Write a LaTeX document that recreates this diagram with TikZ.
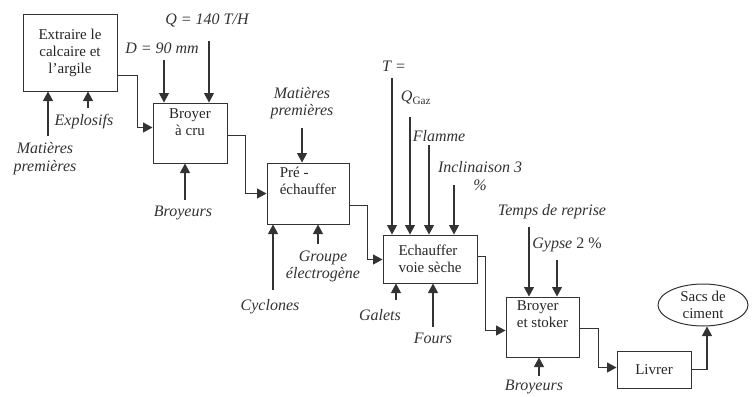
\documentclass[tikz,border=0pt]{standalone}
\usepackage{fontspec}
\setmainfont{Liberation Serif}
\usetikzlibrary{arrows.meta, shapes.geometric, positioning}
\tikzstyle{process} = [rectangle, draw=black!80, line width=1pt, text=black!85, font=\fontsize{15}{17}\selectfont]
\tikzstyle{result} = [ellipse, draw=black!80, line width=1pt, text=black!85, align=center, inner sep=1pt, minimum width=90pt, minimum height=42pt, font=\fontsize{15}{17}\selectfont]
\tikzstyle{inlabel} = [text=black!80, align=center, inner sep=1pt, font=\fontsize{16}{17.5}\selectfont\itshape]
\tikzstyle{arrow} = [line width=1.1pt, draw=black!80, -{Triangle[length=9.5pt,width=10pt]}]

\begin{document}
\begin{tikzpicture}[x=1pt, y=-1pt]
    \useasboundingbox (0,0) rectangle (754,396);
    % Steps
    \node[process, minimum width=94pt, minimum height=76pt, align=center] (extraire) at (70,53) {Extraire le\\calcaire et\\l’argile};
    \node[process, minimum width=74pt, minimum height=60pt, align=center] (broyercru) at (190,133) {Broyer\\à cru\\[4pt]};
    \node[process, minimum width=82pt, minimum height=61pt, align=left] (prechauf) at (308,193.5) {Pré -\\échauffer\\[8pt]};
    \node[process, minimum width=94pt, minimum height=48pt, align=left] (echauf) at (430,259) {Echauffer\\voie sèche};
    \node[process, minimum width=73pt, minimum height=60pt, align=left] (broyerstock) at (542.5,327) {Broyer\\et stoker\\[8pt]};
    \node[process, minimum width=74pt, minimum height=37pt] (livrer) at (654,369.5) {Livrer};
    \node[result] (sacs) at (703,305) {Sacs de\\ciment};

    % Inputs
    \node[inlabel] (mp1) at (45,158.5) {Matières\\premières};
    \node[inlabel] (explo) at (84,122) {Explosifs};
    \node[inlabel] (diam) at (162,48) {D = 90 mm};
    \node[inlabel] (debit) at (207,20) {Q = 140 T/H};
    \node[inlabel] (broy1) at (183,213) {Broyeurs};
    \node[inlabel] (mp2) at (302,103) {Matières\\premières};
    \node[inlabel] (cyclo) at (270,307) {Cyclones};
    \node[inlabel] (groupe) at (323,266.5) {Groupe\\électrogène};
    \node[inlabel] (temp) at (394,66) {T =};
    \node[inlabel] (qgaz) at (416,98) {Q\textsubscript{\upshape Gaz}};
    \node[inlabel] (flamme) at (439,136) {Flamme};
    \node[inlabel] (incli) at (480,176) {Inclinaison 3\\\%};
    \node[inlabel] (galets) at (380,315) {Galets};
    \node[inlabel] (fours) at (433,338) {Fours};
    \node[inlabel] (reprise) at (552,212) {Temps de reprise};
    \node[inlabel] (gypse) at (567,245) {Gypse {\upshape 2 \%}};
    \node[inlabel] (broy2) at (534,387) {Broyeurs};

    \coordinate (in1) at (48,136);
    \coordinate (in2) at (88,108);
    \coordinate (in3) at (164,60);
    \coordinate (in4) at (209,41);
    \coordinate (in5) at (185,200);
    \coordinate (in6) at (302,128);
    \coordinate (in7) at (273,290);
    \coordinate (in8) at (318,244);
    \coordinate (in9) at (392,78);
    \coordinate (in10) at (410,117);
    \coordinate (in11) at (429,145);
    \coordinate (in12) at (454,185);
    \coordinate (in13) at (396,300);
    \coordinate (in14) at (433,327);
    \coordinate (in15) at (529,227);
    \coordinate (in16) at (557,260);
    \coordinate (in17) at (539,376);

    \draw[arrow] (in1) -- (in1 |- extraire.south);
    \draw[arrow] (in2) -- (in2 |- extraire.south);
    \draw[arrow] (in3) -- (in3 |- broyercru.north);
    \draw[arrow] (in4) -- (in4 |- broyercru.north);
    \draw[arrow] (in5) -- (in5 |- broyercru.south);
    \draw[arrow] (in6) -- (in6 |- prechauf.north);
    \draw[arrow] (in7) -- (in7 |- prechauf.south);
    \draw[arrow] (in8) -- (in8 |- prechauf.south);
    \draw[arrow] (in9) -- (in9 |- echauf.north);
    \draw[arrow] (in10) -- (in10 |- echauf.north);
    \draw[arrow] (in11) -- (in11 |- echauf.north);
    \draw[arrow] (in12) -- (in12 |- echauf.north);
    \draw[arrow] (in13) -- (in13 |- echauf.south);
    \draw[arrow] (in14) -- (in14 |- echauf.south);
    \draw[arrow] (in15) -- (in15 |- broyerstock.north);
    \draw[arrow] (in16) -- (in16 |- broyerstock.north);
    \draw[arrow] (in17) -- (in17 |- broyerstock.south);

    % Flow
    \draw[arrow] ([yshift=16pt]extraire.south east) -- ++(20pt,0) |- ([yshift=-25pt]broyercru.north west);
    \draw[arrow] ([yshift=-33pt]broyercru.north east) -- ++(18pt,0) |- ([yshift=-31pt]prechauf.north west);
    \draw[arrow] ([yshift=-43pt]prechauf.north east) -- ++(18pt,0) |- ([yshift=-25pt]echauf.north west);
    \draw[arrow] ([yshift=-22pt]echauf.north east) -- ++(8pt,0) |- ([yshift=-34pt]broyerstock.north west);
    \draw[arrow] ([yshift=-32pt]broyerstock.north east) -- ++(19pt,0) |- ([yshift=-17pt]livrer.north west);
    \draw[arrow] ([yshift=-19pt]livrer.north east) -| ([xshift=4pt]sacs.south);
\end{tikzpicture}
\end{document}
